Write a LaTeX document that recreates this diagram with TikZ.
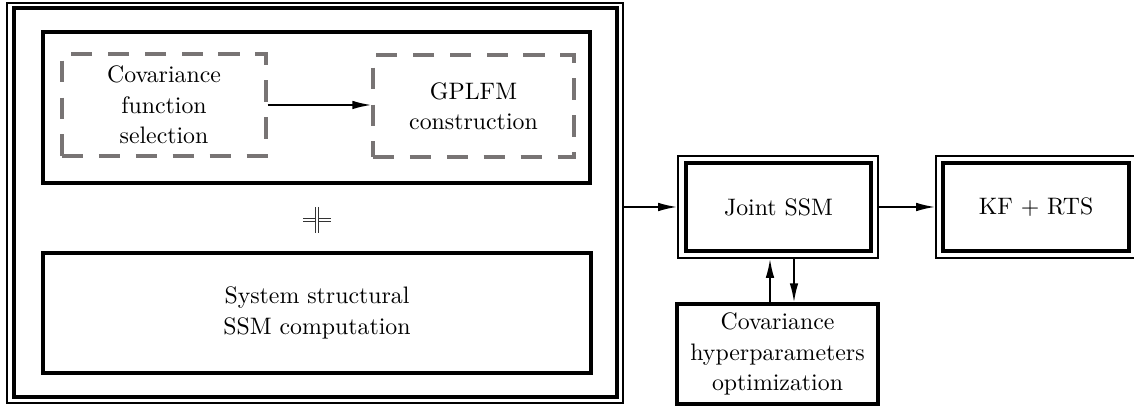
\documentclass[tikz,border=0pt]{standalone}
\usetikzlibrary{arrows.meta}
\definecolor{dgray}{RGB}{120,116,116}
\begin{document}
\begin{tikzpicture}[x=0.42pt,y=-0.42pt,
  sz/.style 2 args={minimum width={#1*0.42pt},minimum height={#2*0.42pt}},
  thickbox/.style={draw, line width=1.3pt, rectangle, align=center, inner sep=0pt},
  thinbox/.style={draw, line width=0.6pt, rectangle, inner sep=0pt},
  dashbox/.style={draw=dgray, line width=1.3pt, dash pattern=on 9pt off 6.5pt, rectangle, align=center, inner sep=0pt},
  arr/.style={-{Latex[length=8pt,width=3.6pt]}, line width=0.8pt},
  lbl/.style={font=\fontsize{10}{12.8}\selectfont},
  plusline/.style={double, draw=black!80, line width=0.45pt, double distance=0.7pt}]
\useasboundingbox (0,0) rectangle (1134,411);
% big left frame
\node[thickbox, sz={603}{389}] (big) at (315.5,202.5) {};
\node[thinbox, sz={616}{400}] (bigO) at (315,203) {};
\node[thickbox, sz={547}{151}] (top) at (316.5,107.5) {};
\node[dashbox, sz={204}{102}, lbl] (cov) at (164,105) {Covariance\\function\\selection};
\node[dashbox, sz={201}{102}, lbl] (gp) at (473.5,106) {GPLFM\\construction};
\node[thickbox, sz={548}{120}, lbl] (sys) at (317,313) {System structural\\SSM computation};
\coordinate (plus) at (317,220);
\draw[plusline] ([shift={(-14,0)}]plus) -- ([shift={(14,0)}]plus);
\draw[plusline] ([shift={(0,-13)}]plus) -- ([shift={(0,13)}]plus);
% right part
\node[thickbox, sz={185}{88}, lbl] (joint) at (778.5,207) {Joint SSM};
\node[thinbox, sz={200}{102}] (jointO) at (778,207) {};
\node[thickbox, sz={186}{88}, lbl] (kf) at (1036,207) {KF + RTS};
\node[thinbox, sz={200}{102}] (kfO) at (1036,207) {};
\node[thickbox, sz={201}{100}, lbl] (hyp) at (777.5,354) {Covariance\\hyperparameters\\optimization};
\coordinate (u1) at (770,0);
\coordinate (d1) at (794,0);
% connectors
\draw[arr] (cov.east) -- (cov.east -| gp.west);
\draw[arr] (jointO.west -| bigO.east) -- (jointO.west);
\draw[arr] (jointO.east) -- (kfO.west);
\draw[arr] (hyp.north -| u1) -- (jointO.south -| u1);
\draw[arr] (jointO.south -| d1) -- (hyp.north -| d1);
\end{tikzpicture}
\end{document}
